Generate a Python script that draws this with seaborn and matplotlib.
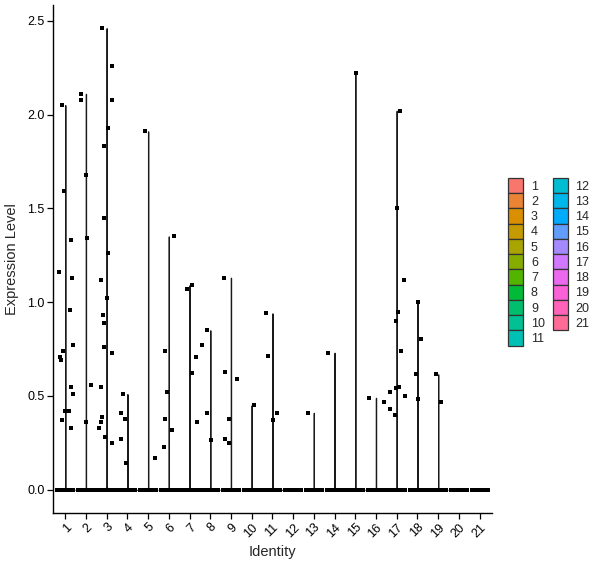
import numpy as np
import pandas as pd
import matplotlib
matplotlib.use("Agg")
import matplotlib.pyplot as plt
from matplotlib.patches import Patch
import seaborn as sns

# cluster identities 1..21
idents = [str(i) for i in range(1, 22)]

# non-zero expression values, per cluster
expr_nonzero = {
    "1": [2.05, 1.59, 1.33, 1.16, 1.13, 0.96, 0.77, 0.74, 0.71, 0.69, 0.55, 0.51, 0.42, 0.42, 0.37, 0.33],
    "2": [2.11, 2.08, 1.68, 1.34, 0.56, 0.36],
    "3": [2.46, 2.26, 2.08, 1.93, 1.83, 1.45, 1.26, 1.12, 1.02, 0.93, 0.89, 0.76, 0.73, 0.55, 0.39, 0.36, 0.33, 0.28, 0.25],
    "4": [0.51, 0.41, 0.38, 0.27, 0.145],
    "5": [1.91, 0.17],
    "6": [1.35, 0.74, 0.52, 0.38, 0.32, 0.23],
    "7": [1.09, 1.07, 0.71, 0.62, 0.36],
    "8": [0.85, 0.77, 0.41, 0.265],
    "9": [1.13, 0.63, 0.59, 0.38, 0.27, 0.25],
    "10": [0.45],
    "11": [0.94, 0.715, 0.41, 0.37],
    "12": [],
    "13": [0.41],
    "14": [0.73],
    "15": [2.22],
    "16": [0.49, 0.47],
    "17": [2.02, 1.50, 1.12, 0.95, 0.90, 0.74, 0.55, 0.54, 0.52, 0.50, 0.43, 0.40],
    "18": [1.00, 0.805, 0.615, 0.485],
    "19": [0.615, 0.47],
    "20": [],
    "21": [],
}
# cells with zero expression (hidden in the flat base), estimated
zero_counts = [150] * 21


def hcl_hex(h, c=100, l=65):
    # polar Luv -> sRGB, like ggplot's hue_pal
    un, vn = 0.1978398, 0.4683363
    U = c * np.cos(np.radians(h))
    V = c * np.sin(np.radians(h))
    Y = ((l + 16) / 116) ** 3 if l > 8 else l / 903.3
    u = U / (13 * l) + un
    v = V / (13 * l) + vn
    X = 9.0 * Y * u / (4 * v)
    Z = -X / 3 - 5 * Y + 3 * Y / v
    M = np.array([[3.240479, -1.537150, -0.498535],
                  [-0.969256, 1.875992, 0.041556],
                  [0.055648, -0.204043, 1.057311]])
    rgb = M @ np.array([X, Y, Z])
    out = []
    for x in rgb:
        x = 12.92 * x if x <= 0.0031308 else 1.055 * x ** (1 / 2.4) - 0.055
        out.append(min(max(x, 0), 1))
    return matplotlib.colors.to_hex(out)


hues = np.linspace(15, 375, len(idents) + 1)[:-1]
palette = {k: hcl_hex(h) for k, h in zip(idents, hues)}

rows = []
for ident, nz in zip(idents, zero_counts):
    rows += [(ident, 0.0)] * nz
    rows += [(ident, v) for v in expr_nonzero[ident]]
df = pd.DataFrame(rows, columns=["ident", "expr"])
df["ident"] = pd.Categorical(df["ident"], categories=idents)

sns.set_style("white")
plt.rcParams["font.family"] = ["Liberation Sans", "DejaVu Sans"]

fig = plt.figure(figsize=(6.0, 5.68), dpi=100)
ax = fig.add_axes([0.088, 0.097, 0.732, 0.894])

sns.violinplot(data=df, x="ident", y="expr", hue="ident", palette=palette,
               order=idents, density_norm="width", cut=0, bw_adjust=0.03,
               gridsize=2000, inner=None, linewidth=0.9, linecolor="#1a1a1a",
               width=0.9, legend=False, ax=ax)
np.random.seed(3)
sns.stripplot(data=df, x="ident", y="expr", order=idents, color="black",
              size=2.3, jitter=0.4, linewidth=0, marker="s", antialiased=False,
              ax=ax)

ax.set_xlim(-0.6, 20.6)
ax.set_ylim(-0.123, 2.583)
ax.set_yticks([0, 0.5, 1.0, 1.5, 2.0, 2.5])
ax.set_yticklabels(["0.0", "0.5", "1.0", "1.5", "2.0", "2.5"])
ax.set_xticks(range(len(idents)))
ax.set_xticklabels(idents, rotation=45, ha="right", va="top", rotation_mode="anchor")
ax.tick_params(axis="both", labelsize=9, colors="black", length=4, width=0.9,
               direction="out", bottom=True, left=True, pad=2)
for s in ["top", "right"]:
    ax.spines[s].set_visible(False)
for s in ["left", "bottom"]:
    ax.spines[s].set_color("black")
    ax.spines[s].set_linewidth(1.0)
ax.set_xlabel("Identity", fontsize=10.5, labelpad=4)
ax.set_ylabel("Expression Level", fontsize=10.5, labelpad=6)

handles = [Patch(facecolor=palette[k], edgecolor="#333333", linewidth=0.9, label=k)
           for k in idents]
fig.legend(handles=handles, ncol=2, loc="center left", bbox_to_anchor=(0.847, 0.539),
           frameon=False, fontsize=9, handlelength=1.2, handleheight=1.5,
           labelspacing=0.0, columnspacing=0.62, handletextpad=0.62, borderpad=0,
           borderaxespad=0)

fig.savefig("out.png", dpi=100)
